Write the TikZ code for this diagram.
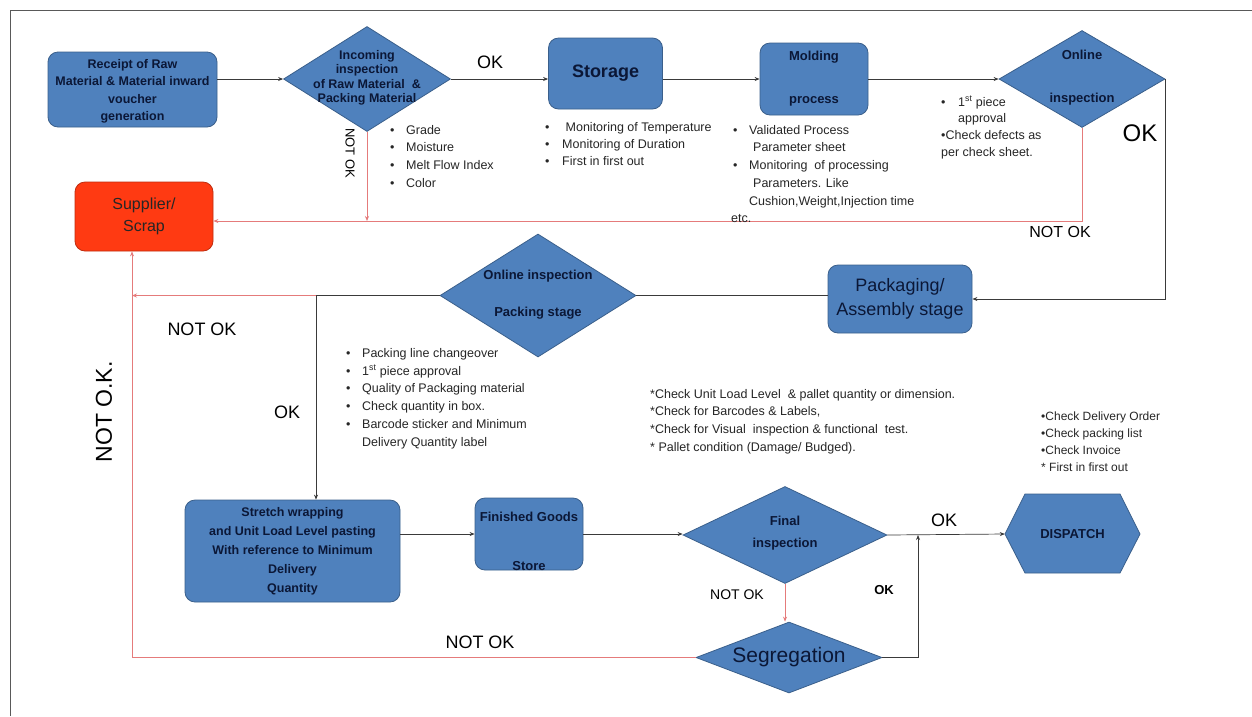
\documentclass[tikz,border=0pt]{standalone}
\usepackage{fontspec}
\setmainfont{Liberation Sans}
\usetikzlibrary{shapes.geometric,arrows.meta}

\definecolor{boxblue}{HTML}{4F81BD}
\definecolor{boxedge}{HTML}{3A5F8B}
\definecolor{boxtext}{HTML}{0B1736}
\definecolor{scrapfill}{HTML}{FF3A12}
\definecolor{rejectline}{HTML}{E57B7B}
\definecolor{flowline}{HTML}{3A3A3A}
\definecolor{notetext}{HTML}{262626}

\newcommand\blt{\makebox[16pt][l]{\textbullet}}

\begin{document}
\begin{tikzpicture}[x=1pt,y=-1pt,
  stepbox/.style={rectangle, draw=boxedge, fill=boxblue, line width=0.8pt,
    rounded corners=10pt, inner sep=0pt, align=center, text=boxtext,
    font=\bfseries\fontsize{12.5}{17.5}\selectfont},
  decision/.style={diamond, draw=boxedge, fill=boxblue, line width=0.8pt, inner sep=0pt},
  intext/.style={align=center, text=boxtext, inner sep=0pt,
    font=\bfseries\fontsize{12.5}{15}\selectfont},
  note/.style={align=left, anchor=north west, text=notetext, inner sep=0pt,
    font=\fontsize{12.5}{17.6}\selectfont},
  tag/.style={text=black, inner sep=0pt, font=\fontsize{18}{20}\selectfont},
  flow/.style={draw=flowline, line width=0.7pt},
  reject/.style={draw=rejectline, line width=0.7pt},
  tip/.style={-{Stealth[length=5pt,width=4pt]}},
]
\useasboundingbox (0,0) rectangle (1252,716);
\fill[white] (0,0) rectangle (1252,716);
% page frame
\draw[line width=1pt, black!65] (10,716) -- (10,10) -- (1252,10);

% ---------- process steps ----------
\node[stepbox, minimum width=169pt, minimum height=75pt] (rcpt) at (132.5,89.5) {};
\node[intext, font=\bfseries\fontsize{12.5}{17.5}\selectfont] (rcpt-t) at (132.5,91.5)
  {Receipt of Raw\\Material \& Material inward\\voucher\\generation};
\node[decision, minimum width=167pt, minimum height=105pt] (inc) at (367,79) {};
\node[intext, font=\bfseries\fontsize{12.5}{14.5}\selectfont] (inc-t) at (367,78)
  {Incoming\\inspection\\of Raw Material\ \ \&\\Packing Material};
\node[stepbox, minimum width=114pt, minimum height=71pt,
  font=\bfseries\fontsize{18}{20}\selectfont] (stor) at (605.5,73.5) {Storage};
\node[stepbox, minimum width=108pt, minimum height=72pt,
  font=\bfseries\fontsize{13}{16}\selectfont] (mold) at (814,79) {Molding\\[27pt]process};
\node[decision, minimum width=166pt, minimum height=97pt] (onl) at (1082,79) {};
\node[intext, font=\bfseries\fontsize{13}{16}\selectfont] (onl-t) at (1082,78)
  {Online\\[27pt]inspection};

\node[stepbox, fill=scrapfill, draw=scrapfill!75!black, minimum width=138pt,
  minimum height=69pt, text=black!85, font=\fontsize{16}{22}\selectfont]
  (supplier) at (144,216.5) {Supplier/\\Scrap};

\node[stepbox, minimum width=144pt, minimum height=68pt,
  font=\fontsize{18}{24}\selectfont] (pkg) at (900,299) {Packaging/\\Assembly stage};
\node[decision, minimum width=196pt, minimum height=123pt] (pck) at (538,295.5) {};
\node[intext, font=\bfseries\fontsize{13}{16}\selectfont] (pck-t) at (538,294.5)
  {Online inspection\\[21pt]Packing stage};

\node[stepbox, minimum width=215pt, minimum height=102pt,
  font=\bfseries\fontsize{12.5}{19}\selectfont] (stretch) at (292.5,551)
  {Stretch wrapping\\and Unit Load Level pasting\\With reference to Minimum\\Delivery\\Quantity};
\node[stepbox, minimum width=108pt, minimum height=72pt] (fg) at (529,534) {};
\node[intext, font=\bfseries\fontsize{13}{16}\selectfont] (fg-t) at (529,541.5)
  {Finished Goods\\[33pt]Store};
\node[decision, minimum width=204pt, minimum height=97pt] (fin) at (785,535) {};
\node[intext, font=\bfseries\fontsize{13}{22}\selectfont] (fin-t) at (785,533.5)
  {Final\\inspection};
\node[decision, minimum width=186pt, minimum height=71pt] (seg) at (789,657.5) {};
\node[intext, font=\fontsize{21}{24}\selectfont] (seg-t) at (789,657) {Segregation};

% dispatch hexagon
\draw[fill=boxblue, draw=boxedge, line width=0.8pt]
  (1005,534) -- (1025,494) -- (1120,494) -- (1140,534) -- (1120,573) -- (1025,573) -- cycle;
\node[inner sep=0pt, minimum width=135pt, minimum height=79pt, text=boxtext,
  font=\bfseries\fontsize{13}{16}\selectfont] (dispatch) at (1072.5,534) {DISPATCH};

% ---------- connectors ----------
\coordinate (okx) at (316,0);
\coordinate (nokx) at (132,0);
\coordinate (joinx) at (918,0);
\coordinate (rejy) at (0,221);

\draw[flow,tip] (rcpt.east |- inc.west) -- (inc.west);
\draw[flow,tip] (inc.east) -- (inc.east -| stor.west);
\draw[flow,tip] (stor.east |- mold.west) -- (mold.west);
\draw[flow,tip] (mold.east) -- (onl.west);
\draw[flow,tip] (onl.east) |- (pkg.east);
\draw[flow] (pkg.west |- pck.east) -- (pck.east);
\draw[flow] (pck.west) -- (pck.west -| okx);
\draw[reject,tip] (pck.west -| okx) -- (pck.west -| nokx);
\draw[flow,tip] (pck.west -| okx) -- (stretch.north -| okx);
\draw[flow,tip] (stretch.east |- fg.west) -- (fg.west);
\draw[flow,tip] (fg.east) -- (fg.east -| fin.west);
\draw[flow,tip] (fin.east) -- (dispatch.west);
\draw[flow,tip] (seg.east) -- (seg.east -| joinx) -- (fin.east -| joinx);
\draw[reject,tip] (fin.south) -- (fin.south |- seg.north);
\draw[reject] (seg.west) -- (seg.west -| nokx);
\draw[reject,tip] (seg.west -| nokx) -- (supplier.south -| nokx);
\draw[reject,tip] (inc.south) -- (inc.south |- rejy);
\draw[reject,tip] (onl.south) -- (onl.south |- rejy) -- (supplier.east |- rejy);

% ---------- connector labels ----------
\node[tag] (l-ok1) at (490,62) {OK};
\node[tag, rotate=-90, font=\fontsize{13}{15}\selectfont] (l-nok1) at (350,153) {NOT OK};
\node[tag, font=\fontsize{24}{26}\selectfont] (l-ok2) at (1140,133) {OK};
\node[tag, font=\fontsize{16}{18}\selectfont] (l-nok2) at (1060,232) {NOT OK};
\node[tag] (l-nok3) at (202,329) {NOT OK};
\node[tag, rotate=90, font=\fontsize{23}{25}\selectfont] (l-nok4) at (104,412) {NOT O.K.};
\node[tag] (l-ok3) at (287,412) {OK};
\node[tag] (l-ok4) at (944,520) {OK};
\node[tag, font=\bfseries\fontsize{13}{15}\selectfont] (l-ok5) at (884,590) {OK};
\node[tag, font=\fontsize{14}{16}\selectfont] (l-nok5) at (737,595) {NOT OK};
\node[tag] (l-nok6) at (480,642) {NOT OK};

% ---------- check lists ----------
\node[note] (n-inc) at (390,125)
  {\blt Grade\\\blt Moisture\\\blt Melt Flow Index\\\blt Color};
\node[note, font=\fontsize{12.5}{17}\selectfont] (n-stor) at (545,122)
  {\makebox[17pt][l]{\textbullet}\ Monitoring of Temperature\\
   \makebox[17pt][l]{\textbullet}Monitoring of Duration\\
   \makebox[17pt][l]{\textbullet}First in first out};
\node[note, font=\fontsize{12.5}{17.7}\selectfont] (n-mold) at (733,125)
  {\blt Validated Process\\
   \hspace*{20pt}Parameter sheet\\
   \blt Monitoring\ \ of processing\\
   \hspace*{20pt}Parameters. Like\\
   \hspace*{16pt}Cushion,Weight,Injection time\\
   \hspace*{-2pt}etc.};
\node[note, font=\fontsize{12.5}{16.7}\selectfont] (n-onl) at (941,96)
  {\makebox[17pt][l]{\textbullet}1\textsuperscript{st} piece\\
   \hspace*{17pt}approval\\
   \textbullet Check defects as\\
   per check sheet.};
\node[note, font=\fontsize{12.5}{17.8}\selectfont] (n-pck) at (346,348)
  {\blt Packing line changeover\\
   \blt 1\textsuperscript{st} piece approval\\
   \blt Quality of Packaging material\\
   \blt Check quantity in box.\\
   \blt Barcode sticker and Minimum\\
   \hspace*{16pt}Delivery Quantity label};
\node[note, font=\fontsize{12.5}{17.7}\selectfont] (n-fin) at (650,389)
  {*Check Unit Load Level\ \ \& pallet quantity or dimension.\\
   *Check for Barcodes \& Labels,\\
   *Check for Visual\ \ inspection \& functional\ \ test.\\
   * Pallet condition (Damage/ Budged).};
\node[note, font=\fontsize{12}{17}\selectfont] (n-disp) at (1041,412)
  {\textbullet Check Delivery Order\\
   \textbullet Check packing list\\
   \textbullet Check Invoice\\
   * First in first out};
\end{tikzpicture}
\end{document}
